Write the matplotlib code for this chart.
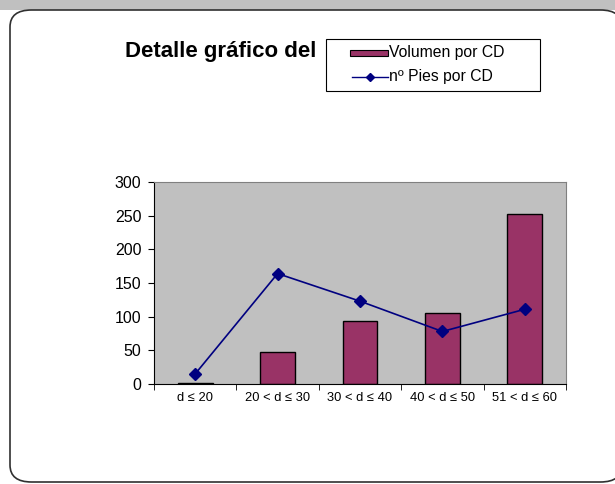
import matplotlib
matplotlib.use("Agg")
import matplotlib.pyplot as plt
from matplotlib.patches import FancyBboxPatch, Rectangle
from matplotlib.lines import Line2D
import numpy as np

plt.rcParams['font.family'] = ['Liberation Sans', 'DejaVu Sans']

categories = ["d ≤ 20", "20 < d ≤ 30", "30 < d ≤ 40", "40 < d ≤ 50", "51 < d ≤ 60"]
volumen = [2, 47, 93, 106, 253]
pies = [15, 164, 123, 78, 111]
yticks = [0, 50, 100, 150, 200, 250, 300]
series_names = ["Volumen por CD", "nº Pies por CD"]

W, H = 615, 484
fig = plt.figure(figsize=(W / 100, H / 100), dpi=100)
fig.patch.set_facecolor('white')


def fx(px):
    return px / W


def fy(py):
    return 1 - py / H


# top gray band
fig.patches.append(Rectangle((0, fy(10)), 1, 10 / H, transform=fig.transFigure,
                             facecolor='#c0c0c0', edgecolor='none', zorder=0))
# rounded frame
fig.patches.append(FancyBboxPatch((fx(10), fy(482)), fx(622) - fx(10), 472 / H,
                                  boxstyle="round,pad=0,rounding_size=0.035",
                                  transform=fig.transFigure, facecolor='white',
                                  edgecolor='#303030', linewidth=1.2, zorder=0.5))

ax = fig.add_axes([fx(154), fy(384), fx(566) - fx(154), fy(182) - fy(384)])
ax.set_zorder(3)
ax.set_facecolor('#c0c0c0')
x = np.arange(len(categories))
ax.bar(x, volumen, width=0.42, color='#993366', edgecolor='black', linewidth=1, zorder=2)
ax.plot(x, pies, color='#000080', marker='D', markersize=6, linewidth=1.2, zorder=3)

ax.set_xlim(-0.5, len(categories) - 0.5)
ax.set_ylim(0, 300)
ax.set_yticks(yticks)
ax.set_yticklabels([str(v) for v in yticks], fontsize=11.5)
ax.set_xticks(x)
ax.set_xticklabels(categories, fontsize=9.3)
ax.tick_params(axis='x', length=0, pad=6)
ax.tick_params(axis='y', length=4, direction='out', pad=5)
ax.set_xticks(np.arange(-0.5, len(categories)), minor=True)
ax.tick_params(axis='x', which='minor', length=4, direction='out')
for s in ['top', 'right']:
    ax.spines[s].set_color('#808080')
for s in ['left', 'bottom']:
    ax.spines[s].set_color('black')

fig.text(fx(125), fy(52), "Detalle gráfico del", fontsize=16, fontweight='bold',
         ha='left', va='center', zorder=5)

# legend drawn manually in figure pixels
fig.patches.append(Rectangle((fx(326), fy(91)), fx(540) - fx(326), (91 - 39) / H,
                             transform=fig.transFigure, facecolor='white',
                             edgecolor='black', linewidth=0.8, zorder=6))
fig.patches.append(Rectangle((fx(350), fy(55.5)), fx(388) - fx(350), 6 / H,
                             transform=fig.transFigure, facecolor='#993366',
                             edgecolor='black', linewidth=0.8, zorder=7))
fig.lines.append(Line2D([fx(352), fx(388)], [fy(76.5), fy(76.5)], transform=fig.transFigure,
                        color='#000080', linewidth=1, zorder=7))
fig.lines.append(Line2D([fx(370)], [fy(76.5)], transform=fig.transFigure, color='#000080',
                        marker='D', markersize=4.5, linestyle='none', zorder=8))
fig.text(fx(389), fy(52.5), series_names[0], fontsize=11.3, ha='left', va='center', zorder=8)
fig.text(fx(389), fy(76.5), series_names[1], fontsize=11.3, ha='left', va='center', zorder=8)

fig.savefig("out.png", dpi=100)
